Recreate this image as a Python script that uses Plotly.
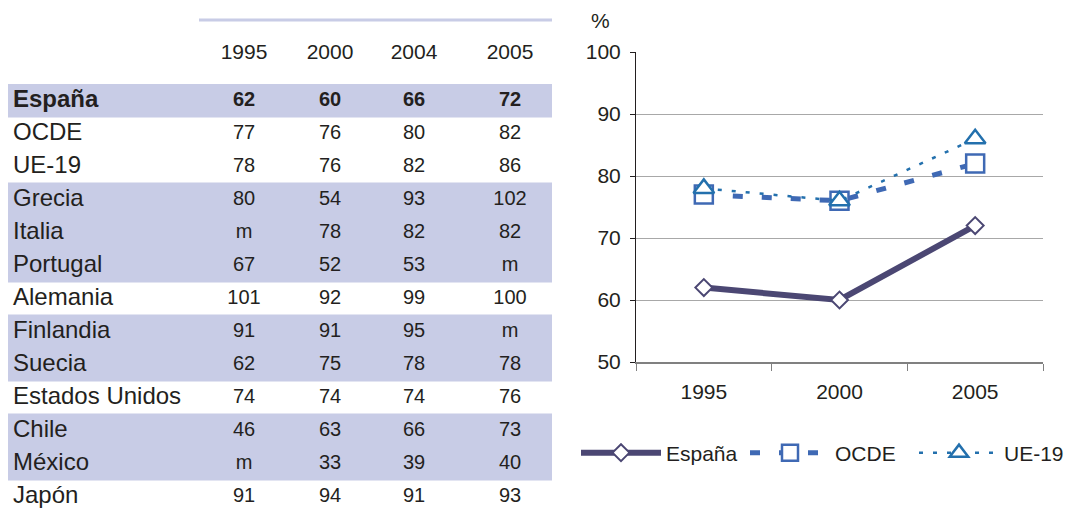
import plotly.graph_objects as go

# ---------------- data ----------------
table_years = ["1995", "2000", "2004", "2005"]
countries = ["España", "OCDE", "UE-19", "Grecia", "Italia", "Portugal", "Alemania",
             "Finlandia", "Suecia", "Estados Unidos", "Chile", "México", "Japón"]
v1995 = ["62", "77", "78", "80", "m", "67", "101", "91", "62", "74", "46", "m", "91"]
v2000 = ["60", "76", "76", "54", "78", "52", "92", "91", "75", "74", "63", "33", "94"]
v2004 = ["66", "80", "82", "93", "82", "53", "99", "95", "78", "74", "66", "39", "91"]
v2005 = ["72", "82", "86", "102", "82", "m", "100", "m", "78", "76", "73", "40", "93"]
shaded = [True, False, False, True, True, True, False, True, True, False, True, True, False]
bold_rows = [True] + [False] * 12

chart_years = ["1995", "2000", "2005"]
espana = [62, 60, 72]
ocde = [77, 76, 82]
ue19 = [78, 76, 86]

# ---------------- styles / layout ----------------
W, H = 1075, 509
OFF = 8  # page body margin offset
FONT = "Liberation Sans, Arial, sans-serif"
TXT = "#231f20"
BAND = "#c8cce6"
C_ES = "#4b4773"
C_OC = "#3f69b4"
C_UE = "#2370ad"

TABLE_LEFT, TABLE_RIGHT = 8, 552          # table extent (px)
TABLE_TOP, ROW_H = 84, 33                 # first row top, row height (px)
NAME_X = 13                               # name column anchor (axis units = px)
COL_CENTERS = [244, 330, 414, 510]        # numeric column centres (px)


def px_x(p):
    return max(0.0, (p - OFF) / W)


def px_y(p):
    return min(1.0, max(0.0, 1 - (p - OFF) / H))


def fmt(col):
    return [f"<b>{t}</b>" if b else t for t, b in zip(col, bold_rows)]


n_rows = len(countries)
fig = go.Figure()

# ---- table drawn on its own axes ----
fig.add_trace(go.Bar(
    y=countries, x=[(TABLE_RIGHT - TABLE_LEFT) if s else 0 for s in shaded],
    base=TABLE_LEFT, orientation="h", width=1.03,
    marker=dict(color=BAND, line=dict(width=0)),
    xaxis="x2", yaxis="y2", showlegend=False, hoverinfo="skip",
))
fig.add_trace(go.Scatter(
    x=[NAME_X] * n_rows, y=countries, text=fmt(countries),
    mode="text", textposition="middle right",
    textfont=dict(family=FONT, size=24, color=TXT),
    xaxis="x2", yaxis="y2", showlegend=False, hoverinfo="skip",
))
for cx, col in zip(COL_CENTERS, [v1995, v2000, v2004, v2005]):
    fig.add_trace(go.Scatter(
        x=[cx] * n_rows, y=countries, text=fmt(col),
        mode="text", textposition="middle center",
        textfont=dict(family=FONT, size=20, color=TXT),
        xaxis="x2", yaxis="y2", showlegend=False, hoverinfo="skip",
    ))

# ---- line chart ----
fig.add_trace(go.Scatter(
    x=chart_years, y=espana, name="España", mode="lines+markers",
    line=dict(color=C_ES, width=6),
    marker=dict(symbol="diamond", size=13, color="white", line=dict(color=C_ES, width=2)),
))
fig.add_trace(go.Scatter(
    x=chart_years, y=ocde, name="OCDE", mode="lines+markers",
    line=dict(color=C_OC, width=5, dash="10px,19px"),
    marker=dict(symbol="square", size=18, color="white", line=dict(color=C_OC, width=2.5)),
))
fig.add_trace(go.Scatter(
    x=chart_years, y=ue19, name="UE-19", mode="lines+markers",
    line=dict(color=C_UE, width=2.5, dash="4px,10px"),
    marker=dict(symbol="triangle-up", size=18, color="white", line=dict(color=C_UE, width=2.5)),
))

fig.update_layout(
    width=W, height=H,
    margin=dict(l=0, r=0, t=0, b=0, autoexpand=False),
    paper_bgcolor="white", plot_bgcolor="white",
    font=dict(family=FONT, size=21, color=TXT),
    xaxis=dict(
        domain=[px_x(636), px_x(1043)],
        type="category", range=[-0.5, 2.5],
        tickson="boundaries", ticks="outside", ticklen=7, tickcolor="#808080",
        showline=True, linecolor="#808080", linewidth=1.5,
        showgrid=False, zeroline=False, ticklabelstandoff=10,
        tickfont=dict(family=FONT, size=21, color=TXT),
    ),
    yaxis=dict(
        domain=[px_y(362), px_y(52)],
        range=[50, 100], dtick=10,
        ticks="outside", ticklen=5, tickcolor=TXT,
        showline=True, linecolor=TXT, linewidth=1,
        showgrid=True, gridcolor="#a8a8a8", gridwidth=1,
        zeroline=False, ticklabelstandoff=5,
        tickfont=dict(family=FONT, size=21, color=TXT),
    ),
    xaxis2=dict(
        domain=[px_x(TABLE_LEFT), px_x(TABLE_RIGHT)],
        range=[TABLE_LEFT, TABLE_RIGHT], anchor="y2", side="top",
        tickmode="array", tickvals=COL_CENTERS, ticktext=table_years,
        ticks="", showline=False, showgrid=False, zeroline=False,
        ticklabelstandoff=20, fixedrange=True,
        tickfont=dict(family=FONT, size=21, color=TXT),
    ),
    yaxis2=dict(
        domain=[px_y(TABLE_TOP + n_rows * ROW_H), px_y(TABLE_TOP)],
        type="category", categoryorder="array", categoryarray=countries,
        range=[n_rows - 0.5, -0.5], anchor="x2",
        showticklabels=False, ticks="", showline=False, showgrid=False,
        zeroline=False, fixedrange=True,
    ),
    legend=dict(
        orientation="h", x=px_x(576), y=px_y(453), xanchor="left", yanchor="middle",
        itemwidth=80, entrywidth=74, entrywidthmode="pixels",
        font=dict(family=FONT, size=21, color=TXT),
        bgcolor="rgba(0,0,0,0)", tracegroupgap=0,
    ),
    shapes=[dict(type="line", xref="paper", yref="paper",
                 x0=px_x(199), x1=px_x(552), y0=px_y(20), y1=px_y(20),
                 line=dict(color=BAND, width=3))],
    annotations=[dict(text="%", xref="paper", yref="paper", x=px_x(600), y=px_y(8),
                      xanchor="center", yanchor="top", borderpad=0,
                      showarrow=False, font=dict(family=FONT, size=21, color=TXT))],
)

fig.write_html("out.html")
